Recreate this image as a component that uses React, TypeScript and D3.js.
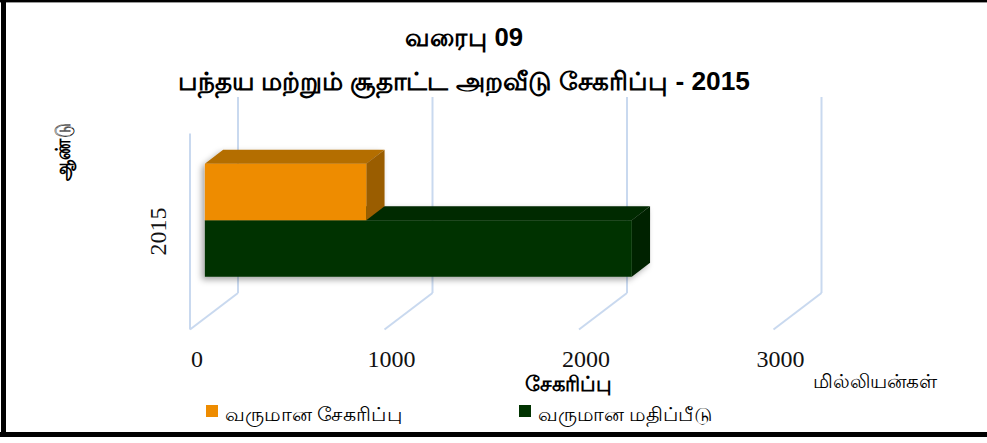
import React from 'react'
import * as d3 from 'd3'

const categories = ['2015']
const seriesNames = ['வருமான சேகரிப்பு', 'வருமான மதிப்பீடு']
const seriesValues = [830, 2195]
const seriesColors = [
  { front: '#ee8c00', top: '#b46e00', side: '#9a5d00' },
  { front: '#013301', top: '#002a00', side: '#002300' },
]
const tickValues = [0, 1000, 2000, 3000]

const titleText = 'வரைபு 09'
const subtitleText = 'பந்தய மற்றும் சூதாட்ட அறவீடு சேகரிப்பு - 2015'
const xTitle = 'சேகரிப்பு'
const yTitle = 'ஆண்டு'
const unitText = 'மில்லியன்கள்'

const App = () => {
  const width = 987
  const height = 443
  // front plane of the 3d box
  const left = 190
  const top = 133.5
  const bottom = 329.5
  const depth = { dx: 48, dy: -36.5 }
  const barFront = 0.31
  const barBack = 0.69

  const x = d3.scaleLinear().domain([0, 3000]).range([0, 583.5])
  const y = d3.scaleBand().domain(categories).range([top, bottom]).paddingOuter(0.367).paddingInner(0)
  const ySeries = d3.scaleBand().domain(seriesNames).range([0, y.bandwidth()])

  const at = (px: number, py: number, t: number): [number, number] => [px + t * depth.dx, py + t * depth.dy]
  const poly = (pts: [number, number][]) => pts.map((p) => p.join(',')).join(' ')

  const sans = "'Liberation Sans Narrow', 'Liberation Sans', Arial, sans-serif"
  const serif = "'Liberation Serif', 'Times New Roman', serif"
  const grid = '#c9d9ef'

  // draw lower bars first so the upper ones cover them
  const order = d3.range(seriesNames.length).reverse()

  return (
    <svg width={width} height={height} style={{ position: 'absolute', left: 0, top: 0, background: '#fff' }}>
      <defs>
        <filter id="shadow" x="-10%" y="-20%" width="120%" height="140%">
          <feDropShadow dx={-3} dy={3} stdDeviation={3} floodColor="#000" floodOpacity={0.35} />
        </filter>
      </defs>
      <rect x={0} y={0} width={width} height={height} fill="#fff" />

      {/* frame */}
      <rect x={0} y={0} width={width} height={2} fill="#000" />
      <rect x={0} y={2} width={width} height={1} fill="#999" />
      <rect x={1} y={0} width={5} height={437} fill="#000" />
      <rect x={0} y={432} width={width} height={5} fill="#000" />

      {/* titles */}
      <text x={405} y={46} textLength={118} lengthAdjust="spacingAndGlyphs" fontFamily={sans} fontWeight="bold" fontSize={25}>
        {titleText}
      </text>
      <text x={178} y={90} textLength={572} lengthAdjust="spacingAndGlyphs" fontFamily={sans} fontWeight="bold" fontSize={25}>
        {subtitleText}
      </text>

      {/* back wall gridlines and floor */}
      {tickValues.map((v) => {
        const [bx, byTop] = at(left + x(v), top, 1)
        const [, byBot] = at(left + x(v), bottom, 1)
        return (
          <g key={v}>
            <line x1={bx} x2={bx} y1={byTop} y2={byBot} stroke={grid} strokeWidth={2} />
            <line x1={bx} y1={byBot} x2={left + x(v)} y2={bottom} stroke={grid} strokeWidth={2} />
          </g>
        )
      })}
      <line x1={left} x2={left} y1={top} y2={bottom} stroke={grid} strokeWidth={2} />

      {/* bars */}
      {categories.map((c) => (
        <g key={c} filter="url(#shadow)">
          {order.map((i) => {
            const x0 = left + x(0)
            const x1 = left + x(seriesValues[i])
            const y0 = (y(c) as number) + (ySeries(seriesNames[i]) as number)
            const y1 = y0 + ySeries.bandwidth()
            const col = seriesColors[i]
            const fTL = at(x0, y0, barFront)
            const fTR = at(x1, y0, barFront)
            const fBR = at(x1, y1, barFront)
            const fBL = at(x0, y1, barFront)
            const bTL = at(x0, y0, barBack)
            const bTR = at(x1, y0, barBack)
            const bBR = at(x1, y1, barBack)
            return (
              <g key={i}>
                <polygon points={poly([fTL, fTR, bTR, bTL])} fill={col.top} />
                <polygon points={poly([fTR, bTR, bBR, fBR])} fill={col.side} />
                <polygon points={poly([fTL, fTR, fBR, fBL])} fill={col.front} />
              </g>
            )
          })}
        </g>
      ))}

      {/* axis labels */}
      {tickValues.map((v) => (
        <text key={v} x={left + x(v) + 7} y={367} textAnchor="middle" fontFamily={serif} fontSize={24} fill="#111">
          {v}
        </text>
      ))}
      {categories.map((c) => (
        <text
          key={c}
          transform={`translate(166,${(y(c) as number) + y.bandwidth() / 2}) rotate(-90)`}
          textAnchor="middle"
          fontFamily={serif}
          fontSize={24}
          fill="#111"
        >
          {c}
        </text>
      ))}
      <text transform="translate(70,181) rotate(-90)" textLength={58} lengthAdjust="spacingAndGlyphs" fontFamily={sans} fontWeight="bold" fontSize={21}>
        {yTitle}
      </text>
      <text x={525} y={391} textLength={87} lengthAdjust="spacingAndGlyphs" fontFamily={sans} fontWeight="bold" fontSize={21}>
        {xTitle}
      </text>
      <text x={813} y={388} textLength={124} lengthAdjust="spacingAndGlyphs" fontFamily={sans} fontSize={19}>
        {unitText}
      </text>

      {/* legend */}
      {seriesNames.map((s, i) => {
        const lx = [206, 519][i]
        const len = [177, 174][i]
        return (
          <g key={s}>
            <rect x={lx} y={405} width={12} height={12} fill={seriesColors[i].front} />
            <text x={lx + 19} y={421} textLength={len} lengthAdjust="spacingAndGlyphs" fontFamily={sans} fontSize={19}>
              {s}
            </text>
          </g>
        )
      })}
    </svg>
  )
}

export default App
